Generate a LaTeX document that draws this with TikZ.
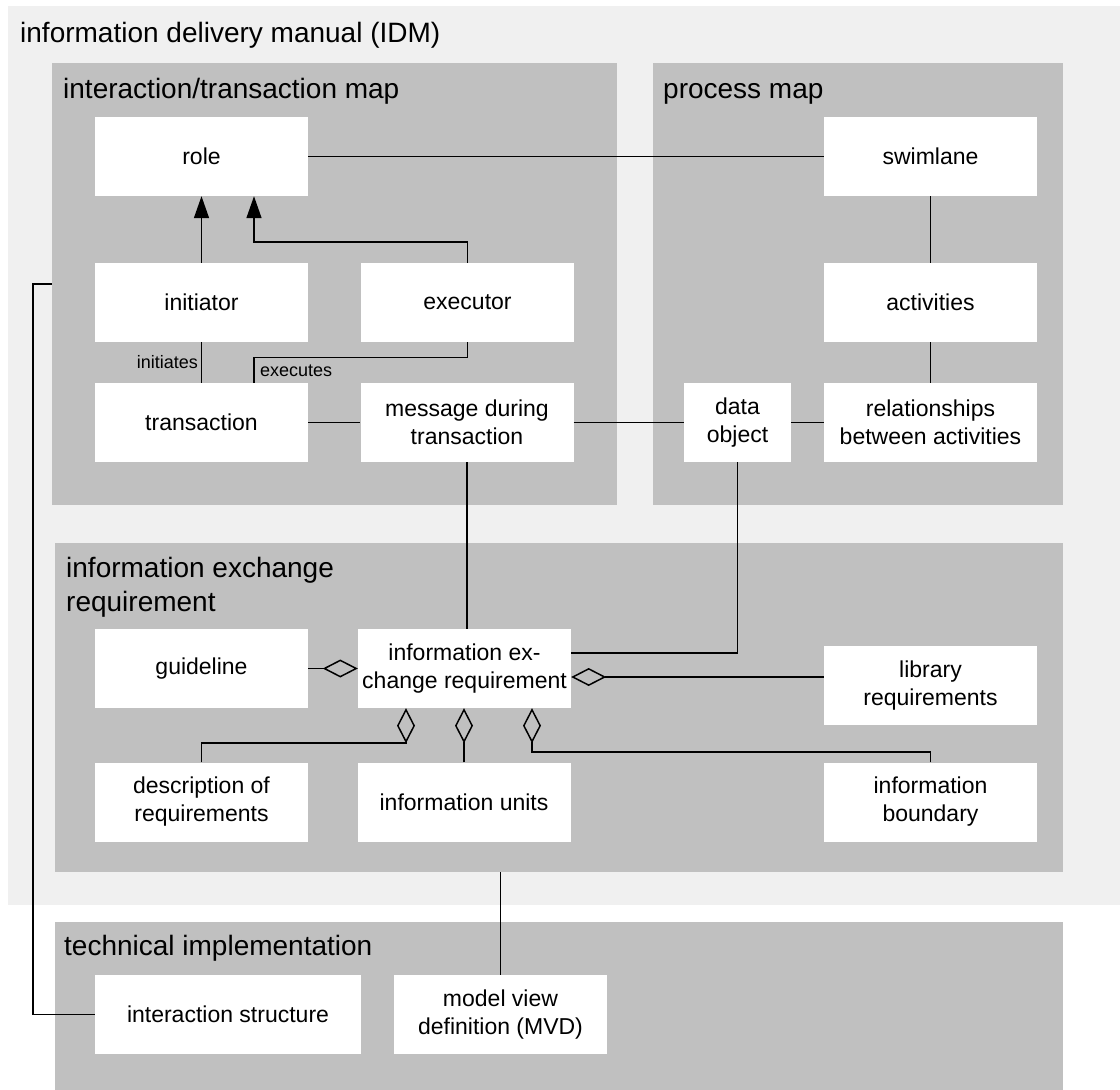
\documentclass[tikz,border=0pt]{standalone}
\usepackage{fontspec}
\setmainfont{Liberation Sans}
\usetikzlibrary{arrows.meta}
\definecolor{paneA}{gray}{0.941}
\definecolor{paneB}{gray}{0.753}
\tikzset{
  pane/.style={draw=none, inner sep=0pt, minimum width=#1},
  item/.style={fill=white, draw=none, inner sep=0pt, minimum width=213pt, minimum height=79pt,
    align=center, font=\fontsize{23}{28}\selectfont},
  ptitle/.style={anchor=base west, inner sep=0pt, font=\fontsize{28}{34}\selectfont, align=left},
  small/.style={inner sep=0pt, font=\fontsize{18}{22}\selectfont},
  link/.style={line width=1.5pt},
  gen/.style={link, -{Triangle[length=22pt,width=15pt]}},
  agg/.style={link, -{Diamond[open,length=35pt,width=18pt,line width=1.5pt]}},
}
\begin{document}
\begin{tikzpicture}[x=1pt, y=-1pt]
\useasboundingbox (0,0) rectangle (1120,1090);

% group panes
\node[pane=1112pt, minimum height=899pt, fill=paneA] (idm) at (564,455.5) {};
\node[pane=565pt, minimum height=442pt, fill=paneB] (itm) at (334.5,284) {};
\node[pane=410pt, minimum height=442pt, fill=paneB] (pm) at (858,284) {};
\node[pane=1008pt, minimum height=329pt, fill=paneB] (ierg) at (559,707.5) {};
\node[pane=1008pt, minimum height=168pt, fill=paneB] (tech) at (559,1006) {};

% pane titles (base of a two-line title is its last line)
\node[ptitle] (tidm) at (20,42) {information delivery manual (IDM)};
\node[ptitle] (titm) at (63,98) {interaction/transaction map};
\node[ptitle] (tpm) at (663,98) {process map};
\node[ptitle] (tier) at (66,611) {information exchange\\requirement};
\node[ptitle] (ttech) at (64,955) {technical implementation};

% interaction/transaction map
\node[item] (role) at (201.5,156.5) {role};
\node[item] (initiator) at (201.5,302.5) {initiator};
\node[item] (transaction) at (201.5,422.5) {transaction};
\node[item] (executor) at (467.5,302.5) {executor};
\node[item] (message) at (467,422.5) {message during\\transaction};

% process map
\node[item] (swimlane) at (930.5,156.5) {swimlane};
\node[item] (activities) at (930.5,302.5) {activities};
\node[item] (relations) at (930.5,422.5) {relationships\\between activities};
\node[item, minimum width=107pt] (dataobj) at (737.5,422.5) {data\\object};

% information exchange requirement
\node[item] (guideline) at (201.5,668.5) {guideline};
\node[item] (ier) at (464.5,668.5) {information ex-\\change requirement};
\node[item] (library) at (930.5,685.5) {library\\requirements};
\node[item] (descr) at (201.5,802) {description of\\requirements};
\node[item] (units) at (464,802) {information units};
\node[item] (boundary) at (930.5,802) {information\\boundary};

% technical implementation
\node[item, minimum width=266pt] (istruct) at (228,1014.5) {interaction structure};
\node[item] (mvd) at (500.5,1014.5) {model view\\definition (MVD)};

% connectors
\draw[link] (role) -- (swimlane);
\draw[gen] (initiator.north) -- (role.south);
\draw[gen] (executor.north) -- ++(0,-21) -| ([xshift=52.5pt]role.south);
\draw[link] (initiator.south) -- (transaction.north);
\draw[link] (executor.south) -- ++(0,15.5) -| ([xshift=52.5pt]transaction.north);
\node[small, anchor=base east] (lbini) at (198,368) {initiates};
\node[small, anchor=base west] (lbexe) at (260,376) {executes};
\draw[link] (transaction) -- (message);
\draw[link] (message) -- (dataobj);
\draw[link] (dataobj) -- (relations);
\draw[link] (swimlane) -- (activities);
\draw[link] (activities) -- (relations);
\draw[link] (message.south) -- (message.south |- ier.north);
\draw[link] (dataobj.south) |- ([yshift=15.5pt]ier.east);

\draw[agg] (guideline) -- (ier);
\draw[agg] ([yshift=8.5pt]library.west) coordinate (libin) -- (ier.east |- libin);
\draw[agg] (descr.north) |- ([xshift=-58.5pt,yshift=-35pt]ier.south) -- ([xshift=-58.5pt]ier.south);
\draw[agg] (units.north) -- (units.north |- ier.south);
\draw[agg] (boundary.north) |- ([xshift=67.5pt,yshift=-44pt]ier.south) -- ([xshift=67.5pt]ier.south);

\draw[link] (mvd.north) -- (mvd.north |- ierg.south);
\draw[link] (itm.west) -- ++(-19,0) |- (istruct.west);
\end{tikzpicture}
\end{document}
